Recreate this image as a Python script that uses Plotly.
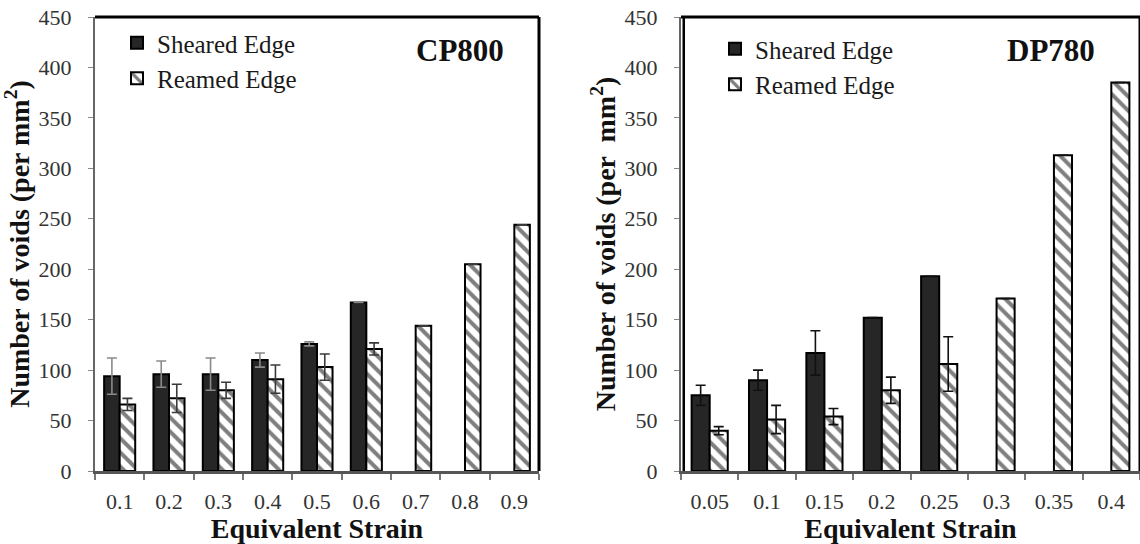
import plotly.graph_objects as go

# ---------------- data ----------------
cp_strain = ["0.1", "0.2", "0.3", "0.4", "0.5", "0.6", "0.7", "0.8", "0.9"]
cp_sheared = [94, 96, 96, 110, 126, 167, None, None, None]
cp_sheared_err = [18, 13, 16, 7, 2, None, None, None, None]
cp_reamed = [66, 72, 80, 91, 103, 121, 144, 205, 244]
cp_reamed_err = [6, 14, 8, 14, 13, 6, None, None, None]

dp_strain = ["0.05", "0.1", "0.15", "0.2", "0.25", "0.3", "0.35", "0.4"]
dp_sheared = [75, 90, 117, 152, 193, None, None, None]
dp_sheared_err = [10, 10, 22, None, None, None, None, None]
dp_reamed = [40, 51, 54, 80, 106, 171, 313, 385]
dp_reamed_err = [4, 14, 8, 13, 27, None, None, None]

series_names = ["Sheared Edge", "Reamed Edge"]
panel_labels = ["CP800", "DP780"]
x_title = "Equivalent Strain"
y_title_left = "Number of voids (per mm<sup>2</sup>)"
y_title_right = "Number of voids (per  mm<sup>2</sup>)"

# ---------------- styling ----------------
FONT = "Liberation Serif, Times New Roman, serif"
W, H = 1140, 544
SHEAR_FILL = "#262626"
sheared_marker = dict(color=SHEAR_FILL, line=dict(color="black", width=2))
reamed_marker = dict(color="white", line=dict(color="black", width=2),
                     pattern=dict(shape="\\", fgcolor="black", bgcolor="white",
                                  size=10, solidity=0.4))

fig = go.Figure()

def err(arr, color):
    return dict(type="data", array=arr, symmetric=True, visible=True,
                color=color, thickness=1.6, width=5)

# Left panel (CP800)
fig.add_trace(go.Bar(x=cp_strain, y=cp_sheared, name=series_names[0],
                     marker=sheared_marker, error_y=err(cp_sheared_err, "#8a8a8a"),
                     xaxis="x", yaxis="y", legend="legend"))
fig.add_trace(go.Bar(x=cp_strain, y=cp_reamed, name=series_names[1],
                     marker=reamed_marker, error_y=err(cp_reamed_err, "#3a3a3a"),
                     xaxis="x", yaxis="y", legend="legend"))
# Right panel (DP780)
fig.add_trace(go.Bar(x=dp_strain, y=dp_sheared, name=series_names[0],
                     marker=sheared_marker, error_y=err(dp_sheared_err, "#111111"),
                     xaxis="x2", yaxis="y2", legend="legend2"))
fig.add_trace(go.Bar(x=dp_strain, y=dp_reamed, name=series_names[1],
                     marker=reamed_marker, error_y=err(dp_reamed_err, "#111111"),
                     xaxis="x2", yaxis="y2", legend="legend2"))

ydom = [1 - 471 / H, 1 - 17 / H]
tickfont = dict(family=FONT, size=22, color="#333333")
titlefont = dict(family=FONT, size=28, color="#111111", weight="bold")

def xaxis(domain, anchor, cats):
    return dict(domain=domain, anchor=anchor, type="category",
                categoryorder="array", categoryarray=cats,
                range=[-0.5, len(cats) - 0.5],
                tickson="boundaries", ticks="outside", ticklen=6,
                tickcolor="#777777", tickwidth=1.5,
                showline=True, linecolor="#555555", linewidth=3,
                showgrid=False, zeroline=False, tickfont=tickfont,
                ticklabelstandoff=9,
                title=dict(text=x_title, font=titlefont, standoff=0))

def yaxis(domain, anchor, title):
    return dict(domain=domain, anchor=anchor, range=[0, 450], dtick=50,
                ticks="outside", ticklen=5, tickcolor="#888888", tickwidth=1,
                showline=True, linecolor="#666666", linewidth=2,
                showgrid=False, zeroline=False, tickfont=tickfont,
                ticklabelstandoff=12,
                title=dict(text=title, font=titlefont, standoff=1))

legfont = dict(family=FONT, size=25, color="#1a1a1a")
fig.update_layout(
    width=W, height=H,
    margin=dict(l=0, r=0, t=0, b=0, autoexpand=False),
    paper_bgcolor="white", plot_bgcolor="white",
    barmode="group", bargap=0.37, bargroupgap=0.0,
    font=dict(family=FONT, color="#222222"),
    xaxis=xaxis([95 / W, 539 / W], "y", cp_strain),
    yaxis=yaxis(ydom, "x", y_title_left),
    xaxis2=xaxis([681 / W, 1.0], "y2", dp_strain),
    yaxis2=yaxis(ydom, "x2", y_title_right),
    legend=dict(x=117 / W, y=1 - 20 / H, xanchor="left", yanchor="top",
                bgcolor="rgba(0,0,0,0)", font=legfont, itemclick=False),
    legend2=dict(x=715 / W, y=1 - 26 / H, xanchor="left", yanchor="top",
                 bgcolor="rgba(0,0,0,0)", font=legfont, itemclick=False),
    showlegend=True,
)

# panel labels
for label, cx in zip(panel_labels, [460, 1051]):
    fig.add_annotation(text="<b>" + label + "</b>", x=cx / W, y=1 - 50 / H,
                       xref="paper", yref="paper", xanchor="center", yanchor="middle",
                       showarrow=False,
                       font=dict(family=FONT, size=31, color="#111111"))

# frame lines (top / right thick black)
for xr, yr, left in [("x domain", "y domain", False), ("x2 domain", "y2 domain", True)]:
    fig.add_shape(type="line", xref=xr, yref=yr, x0=0, x1=1, y0=1, y1=1,
                  line=dict(color="black", width=3))
    fig.add_shape(type="line", xref=xr, yref=yr, x0=1, x1=1, y0=0, y1=1,
                  line=dict(color="black", width=3))
    if left:
        fig.add_shape(type="line", xref=xr, yref=yr, x0=0.006, x1=0.006, y0=0, y1=1,
                      line=dict(color="black", width=2.5))

fig.write_html("out.html")
